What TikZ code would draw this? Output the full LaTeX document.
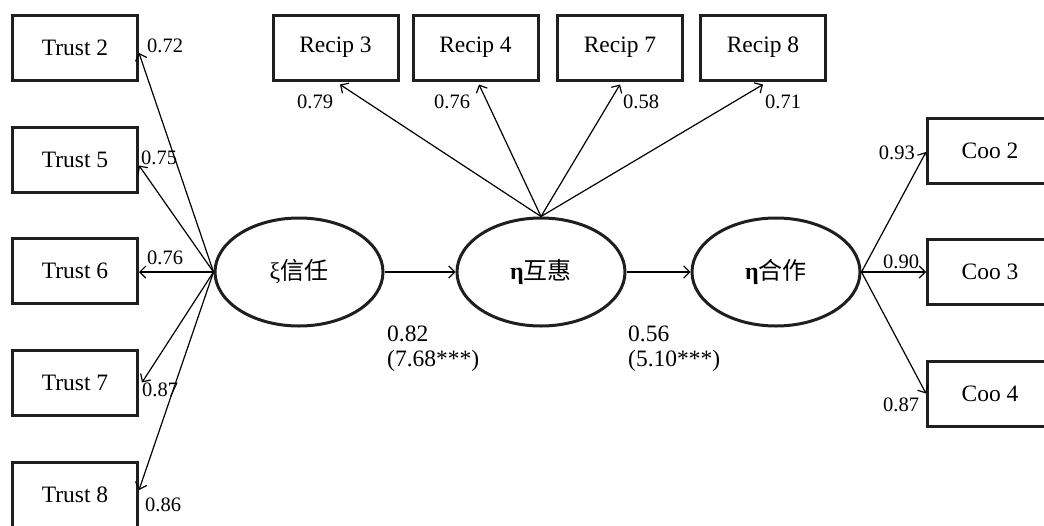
\documentclass[tikz,border=0pt]{standalone}
\usepackage{fontspec}
\setmainfont{Liberation Serif}
\newfontfamily\cjk{Noto Sans CJK SC}
\usetikzlibrary{arrows.meta,shapes.geometric}
\tikzset{
  obsbox/.style={draw=black!88, line width=3pt, rectangle, minimum width=125pt, minimum height=65pt, inner sep=0pt, font=\fontsize{23.5}{27}\selectfont},
  latent/.style={draw=black!88, line width=3pt, ellipse, minimum width=168pt, minimum height=108pt, inner sep=0pt, font=\fontsize{24}{28}\selectfont},
  conn/.style={line width=1.2pt, -{Straight Barb[length=6pt,width=12pt]}},
  ldlab/.style={inner sep=0pt, font=\fontsize{20.5}{24}\selectfont},
  pathlab/.style={inner sep=0pt, anchor=west, font=\fontsize{23.5}{27}\selectfont}
}
\begin{document}
\begin{tikzpicture}[x=1pt,y=-1pt]
\useasboundingbox (0,0) rectangle (1044,525);
\clip (0,0) rectangle (1044,525);
% observed boxes
\node[obsbox] (t2) at (75,47.5) {Trust 2};
\node[obsbox] (t5) at (75,159.5) {Trust 5};
\node[obsbox] (t6) at (75,271) {Trust 6};
\node[obsbox] (t7) at (75,382.5) {Trust 7};
\node[obsbox] (t8) at (75,494.5) {Trust 8};
\node[obsbox] (r3) at (335.5,47.5) {Recip 3};
\node[obsbox] (r4) at (475.5,47.5) {Recip 4};
\node[obsbox] (r7) at (620,47.5) {Recip 7};
\node[obsbox] (r8) at (763,47.5) {Recip 8};
\node[obsbox] (c2) at (990,150.5) {Coo 2};
\node[obsbox] (c3) at (990,272) {Coo 3};
\node[obsbox] (c4) at (990,393.5) {Coo 4};
% latent ellipses
\node[latent] (e1) at (299,272) {ξ{\cjk 信任}};
\node[latent] (e2) at (541,272) {\textbf{η}{\cjk 互惠}};
\node[latent] (e3) at (776,272) {\textbf{η}{\cjk 合作}};
% trust loadings
\draw[conn] (e1.west) -- ([yshift=-5.5pt]t2.east);
\draw[conn] (e1.west) -- ([yshift=-6pt]t5.east);
\draw[conn] (e1.west) -- ([yshift=-1pt]t6.east);
\draw[conn] (e1.west) -- ([xshift=3pt]t7.east);
\draw[conn] (e1.west) -- ([yshift=4.5pt]t8.east);
% recip loadings
\draw[conn] (e2.north) -- ([xshift=4.5pt,yshift=-3pt]r3.south);
\draw[conn] (e2.north) -- ([xshift=3.5pt,yshift=-3pt]r4.south);
\draw[conn] (e2.north) -- ([yshift=-3pt]r7.south);
\draw[conn] (e2.north) -- ([yshift=-3pt]r8.south);
% coo loadings
\draw[conn] (e3.east) -- ([yshift=-1.5pt]c2.west);
\draw[conn] (e3.east) -- (c3.west);
\draw[conn] (e3.east) -- (c4.west);
% structural paths
\draw[conn] (e1.east) -- (e2.west);
\draw[conn] (e2.east) -- (e3.west);
% loading labels
\node[ldlab, anchor=west] (l72) at (147,46) {0.72};
\node[ldlab, anchor=west] (l75) at (141,158) {0.75};
\node[ldlab, anchor=west] (l76a) at (147,258) {0.76};
\node[ldlab, anchor=west] (l87a) at (142,390) {0.87};
\node[ldlab, anchor=west] (l86) at (145,505) {0.86};
\node[ldlab, anchor=west] (l79) at (297,102) {0.79};
\node[ldlab, anchor=west] (l76b) at (434,102) {0.76};
\node[ldlab, anchor=west] (l58) at (623,102) {0.58};
\node[ldlab, anchor=west] (l71) at (765,102) {0.71};
\node[ldlab, anchor=east] (l93) at (915,153) {0.93};
\node[ldlab, anchor=west] (l90) at (883,262) {0.90};
\node[ldlab, anchor=west] (l87b) at (883,405) {0.87};
% path labels
\node[pathlab] (p1a) at (387,334) {0.82};
\node[pathlab] (p1b) at (387,361) {(7.68***)};
\node[pathlab] (p2a) at (628,334) {0.56};
\node[pathlab] (p2b) at (628,361) {(5.10***)};
\end{tikzpicture}
\end{document}
